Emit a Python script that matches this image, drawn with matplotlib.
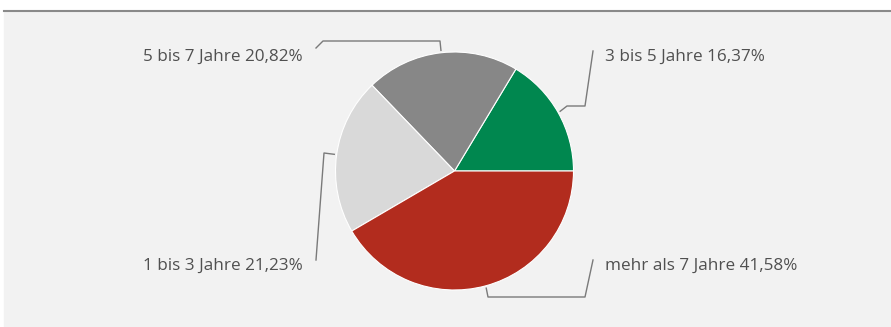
import numpy as np
import matplotlib.pyplot as plt
from matplotlib.patches import Rectangle

# Anteile nach Dauer
labels = ["3 bis 5 Jahre", "5 bis 7 Jahre", "1 bis 3 Jahre", "mehr als 7 Jahre"]
shares = [16.37, 20.82, 21.23, 41.58]
colors = ["#00874f", "#878787", "#d9d9d9", "#b22c1e"]

W, H = 891, 327
fig = plt.figure(figsize=(W / 100, H / 100), dpi=100, facecolor="white")
ax = fig.add_axes([0, 0, 1, 1])
ax.set_xlim(0, W)
ax.set_ylim(0, H)
ax.axis("off")


def py(y):
    # pixel row (top-down) -> data y
    return H - y


ax.add_patch(Rectangle((4, 0), W - 4, py(10.5), color="#f2f2f2", zorder=0))
ax.plot([4, W], [py(10.5)] * 2, color="#8a8a8a", lw=1.5, zorder=1)

cx, cy, r = 454.5, py(171), 119
wedges, _ = ax.pie(shares, colors=colors, startangle=0, counterclock=True,
                   center=(cx, cy), radius=r, frame=True,
                   wedgeprops=dict(edgecolor="white", linewidth=0.8))
ax.set_xlim(0, W)
ax.set_ylim(0, H)
ax.set_aspect("equal")
ax.axis("off")

# leader line bends (pixel coords) and label placement
bends = [
    [(567, 106), (585, 106), (593, 51)],
    [(440, 41), (323, 41), (316, 48)],
    [(324, 153), (316, 260)],
    [(488, 297), (585, 297), (593, 260)],
]
text_pos = [(605, 61, "left"), (303, 61, "right"), (303, 270, "right"), (605, 270, "left")]

for w, share, lab, pts, (tx, ty, ha) in zip(wedges, shares, labels, bends, text_pos):
    mid = np.deg2rad((w.theta1 + w.theta2) / 2)
    ax0 = cx + 1.02 * r * np.cos(mid)
    ay0 = cy + 1.02 * r * np.sin(mid)
    xs = [ax0] + [p[0] for p in pts]
    ys = [ay0] + [py(p[1]) for p in pts]
    ax.plot(xs, ys, color="#7a7a7a", lw=1.0, zorder=3)
    txt = f"{lab} {share:.2f}%".replace(".", ",")
    ax.text(tx, py(ty), txt, ha=ha, va="baseline", fontsize=12.3,
            family="Open Sans", color="#505050")

fig.savefig("out.png", dpi=100, facecolor="white")
